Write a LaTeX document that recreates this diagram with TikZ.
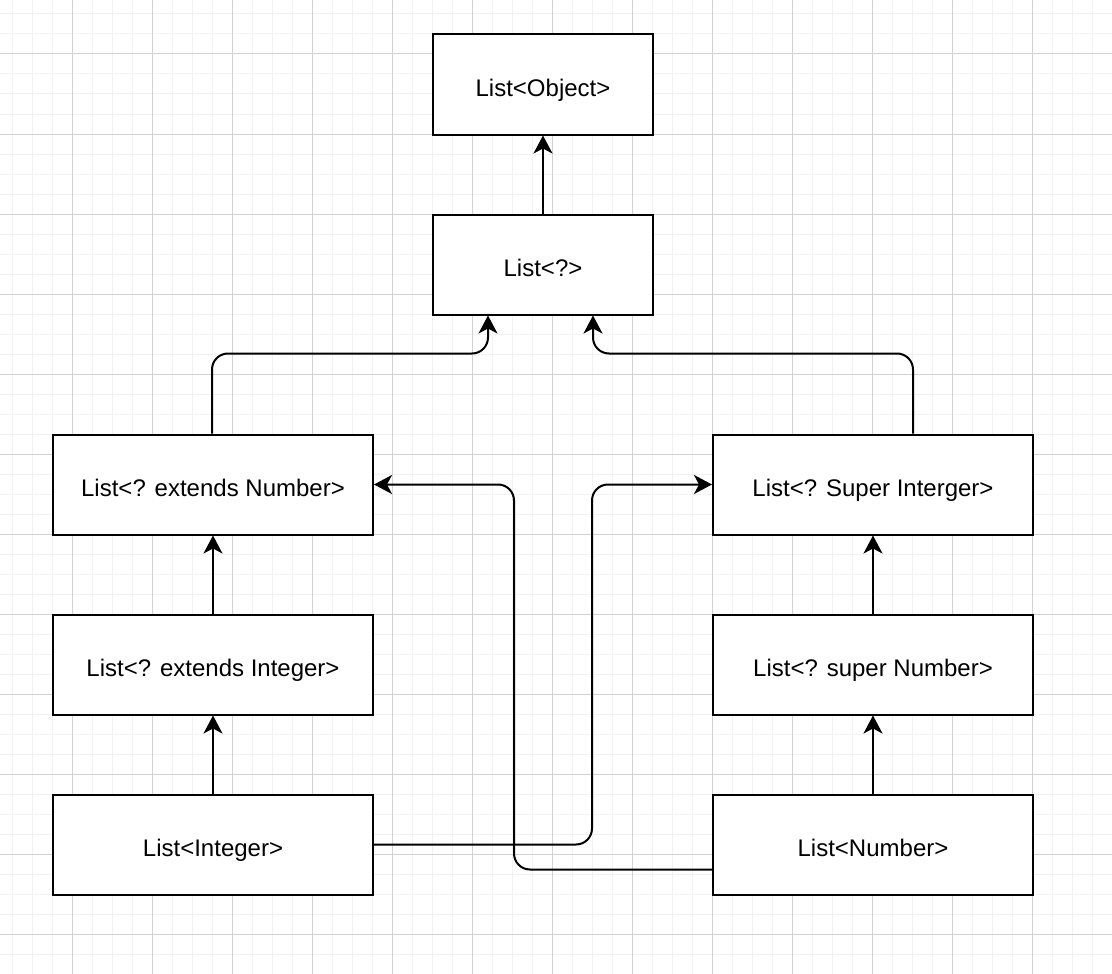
\documentclass[tikz,border=0pt]{standalone}
\usepackage{fontspec}
\setmainfont{Liberation Sans}
\usetikzlibrary{arrows.meta,calc}
\definecolor{gridminor}{RGB}{242,242,242}
\definecolor{gridmajor}{RGB}{210,210,210}
\begin{document}
\begin{tikzpicture}[x=1pt,y=-1pt,
  box/.style={draw=black, line width=2pt, fill=white, minimum width=320pt, minimum height=100pt, inner sep=0pt, text height=24pt, text depth=0pt, font=\fontsize{24}{28}\selectfont},
  smallbox/.style={box, minimum width=220pt},
  tip/.style={-{Stealth[length=18pt,width=19pt,inset=5pt]}},
  conn/.style={line width=2pt, tip},
  bent/.style={conn, rounded corners=16pt},
  gmin/.style={draw=gridminor, line width=1pt},
  gmaj/.style={draw=gridmajor, line width=1pt}]
\fill[white] (0,0) rectangle (1112,974);
\useasboundingbox (0,0) rectangle (1112,974);
\foreach \x in {12,32,...,1112} \draw[gmin] (\x,0) -- (\x,974);
\foreach \y in {14,34,...,974} \draw[gmin] (0,\y) -- (1112,\y);
\foreach \x in {72,152,...,1112} \draw[gmaj] (\x,0) -- (\x,974);
\foreach \y in {54,134,...,974} \draw[gmaj] (0,\y) -- (1112,\y);

\node[smallbox] (obj) at (543,84.5) {List<Object>};
\node[smallbox] (any) at (543,264.5) {List<?>};
\node[box] (extN) at (213,484.5) {List<? extends Number>};
\node[box] (supI) at (873,484.5) {List<? Super Interger>};
\node[box] (extI) at (213,664.5) {List<? extends Integer>};
\node[box] (supN) at (873,664.5) {List<? super Number>};
\node[box] (int) at (213,844.5) {List<Integer>};
\node[box] (num) at (873,844.5) {List<Number>};

\draw[conn] (any.north) -- (obj.south);
\draw[bent] ([xshift=-1pt]extN.north) -- ++(0,-80) -| ([xshift=-55pt]any.south);
\draw[bent] ([xshift=40pt]supI.north) -- ++(0,-80) -| ([xshift=50pt]any.south);
\draw[bent] ([yshift=-25pt]num.west) -| ($(extN.east)+(140,0)$) -- (extN.east);
\draw[bent] (int.east) -| ($(supI.west)+(-120,0)$) -- (supI.west);
\draw[conn] (extI.north) -- (extN.south);
\draw[conn] (int.north) -- (extI.south);
\draw[conn] (supN.north) -- (supI.south);
\draw[conn] (num.north) -- (supN.south);
\end{tikzpicture}
\end{document}
